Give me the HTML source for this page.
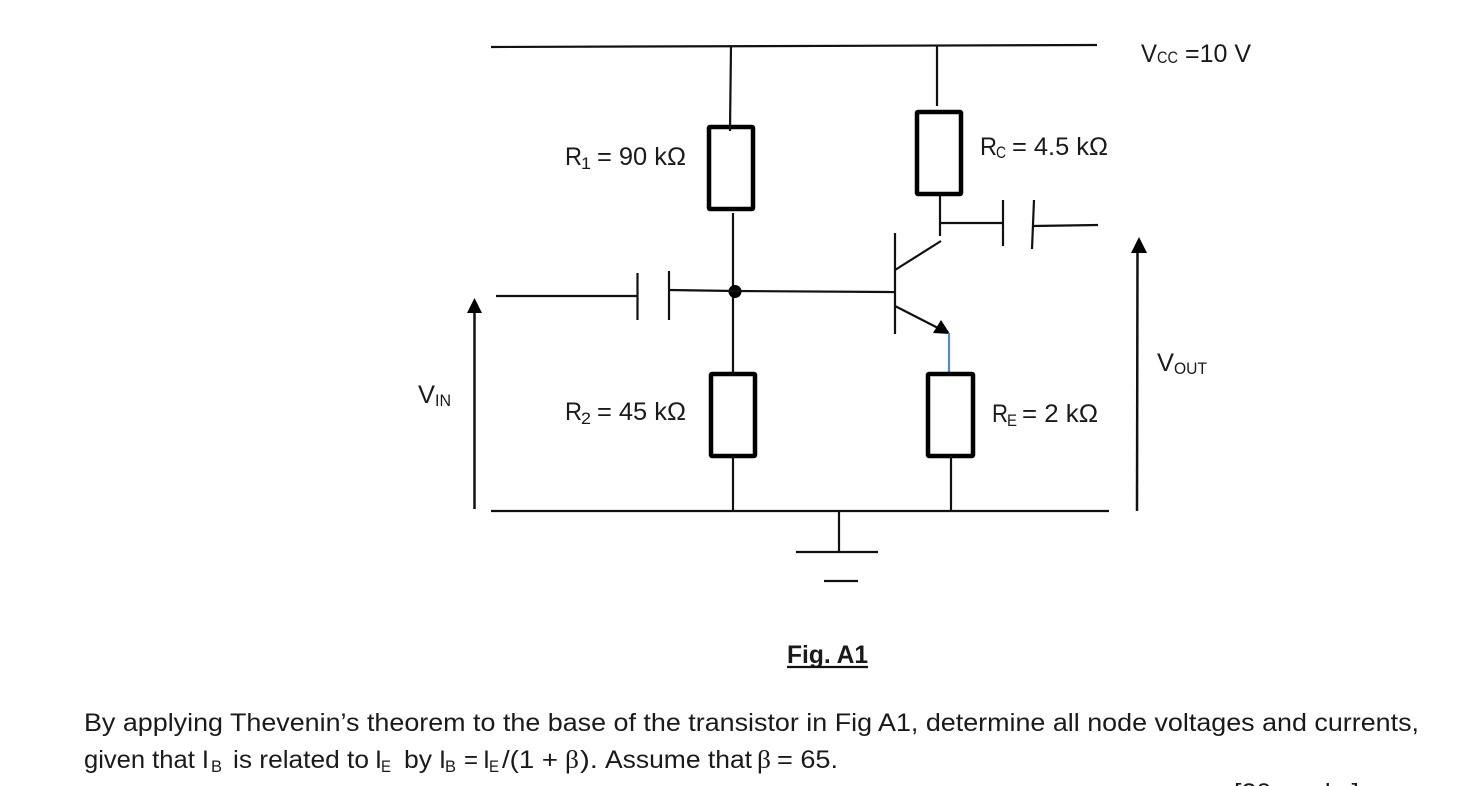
<!DOCTYPE html>
<html><head><meta charset="utf-8"><style>
html,body{margin:0;padding:0;background:#fff;width:1465px;height:786px;overflow:hidden}
svg{display:block}
text{font-family:"Liberation Sans",sans-serif;fill:#1a1a1a;font-size:25px}
.s{font-size:17px}
line,polyline{stroke:#111;stroke-width:2.2;fill:none}
rect{stroke:#000;stroke-width:4.5;fill:#fff}
</style></head><body>
<svg width="1465" height="786" viewBox="0 0 1465 786" xmlns="http://www.w3.org/2000/svg">
<!-- rails -->
<line x1="491" y1="47" x2="1097" y2="45"/>
<line x1="491" y1="511" x2="1109" y2="511"/>
<!-- left branch -->
<rect x="709" y="127" width="44" height="82" rx="1"/>
<line x1="731" y1="46" x2="730" y2="131"/>
<line x1="733" y1="213" x2="733" y2="374"/>
<rect x="711" y="374" width="44" height="82" rx="1"/>
<line x1="733" y1="456" x2="733" y2="511"/>
<circle cx="735" cy="291.500" r="6.5" fill="#000"/>
<!-- input cap -->
<line x1="496" y1="296" x2="637" y2="296"/>
<line x1="637.500" y1="273" x2="637.500" y2="320"/>
<line x1="669" y1="271" x2="669" y2="320"/>
<line x1="669" y1="290" x2="735" y2="291"/>
<line x1="735" y1="291" x2="895" y2="292"/>
<!-- right branch -->
<line x1="937" y1="46" x2="937" y2="106"/>
<rect x="917" y="112" width="44" height="82" rx="1"/>
<line x1="940" y1="196" x2="940" y2="236"/>
<line x1="941" y1="223" x2="1002" y2="223"/>
<line x1="1003" y1="200" x2="1003" y2="246"/>
<line x1="1034" y1="200" x2="1032" y2="249"/>
<line x1="1033" y1="226" x2="1098" y2="225"/>
<!-- transistor -->
<line x1="895" y1="233" x2="895" y2="334"/>
<line x1="895" y1="270" x2="941" y2="241"/>
<line x1="895" y1="306" x2="938" y2="328"/>
<polygon points="950,334 933,333 941,320" fill="#000"/>
<line x1="949" y1="333" x2="949" y2="374" style="stroke:#5b87c5"/>
<rect x="928" y="374" width="45" height="82" rx="1"/>
<line x1="951" y1="456" x2="951" y2="511"/>
<!-- ground -->
<line x1="839" y1="511" x2="839" y2="551"/>
<line x1="796" y1="552" x2="878" y2="552"/>
<line x1="824" y1="581" x2="858" y2="581"/>
<!-- arrows -->
<line x1="474.500" y1="310" x2="474.500" y2="509" style="stroke-width:2.500"/>
<polygon points="474.500,298 467,313 482,313" fill="#000"/>
<line x1="1137.500" y1="250" x2="1137" y2="511" style="stroke-width:2.500"/>
<polygon points="1139,237 1131,253 1147,253" fill="#000"/>
<!-- labels -->
<text x="1141" y="62" textLength="16" lengthAdjust="spacingAndGlyphs">V</text>
<text x="1157" y="63" class="s" textLength="21" lengthAdjust="spacingAndGlyphs">CC</text>
<text x="1185" y="62" textLength="66" lengthAdjust="spacingAndGlyphs">=10 V</text>
<text x="565" y="165" textLength="17" lengthAdjust="spacingAndGlyphs">R</text>
<text x="581" y="169" class="s" textLength="10" lengthAdjust="spacingAndGlyphs">1</text>
<text x="597" y="165" textLength="89" lengthAdjust="spacingAndGlyphs">= 90 kΩ</text>
<text x="980" y="155" textLength="17" lengthAdjust="spacingAndGlyphs">R</text>
<text x="996" y="158" class="s" textLength="10" lengthAdjust="spacingAndGlyphs">C</text>
<text x="1012" y="155" textLength="96" lengthAdjust="spacingAndGlyphs">= 4.5 kΩ</text>
<text x="565" y="420" textLength="17" lengthAdjust="spacingAndGlyphs">R</text>
<text x="581" y="424" class="s" textLength="10" lengthAdjust="spacingAndGlyphs">2</text>
<text x="597" y="420" textLength="89" lengthAdjust="spacingAndGlyphs">= 45 kΩ</text>
<text x="992" y="422" textLength="16" lengthAdjust="spacingAndGlyphs">R</text>
<text x="1007" y="426" class="s" textLength="10" lengthAdjust="spacingAndGlyphs">E</text>
<text x="1022" y="422" textLength="76" lengthAdjust="spacingAndGlyphs">= 2 kΩ</text>
<text x="418" y="403" textLength="17" lengthAdjust="spacingAndGlyphs">V</text>
<text x="435" y="406" class="s" textLength="16" lengthAdjust="spacingAndGlyphs">IN</text>
<text x="1157" y="371" textLength="17" lengthAdjust="spacingAndGlyphs">V</text>
<text x="1174" y="374" class="s" textLength="33" lengthAdjust="spacingAndGlyphs">OUT</text>
<text x="787" y="663" font-weight="bold" textLength="81" lengthAdjust="spacingAndGlyphs">Fig. A1</text>
<line x1="787" y1="667" x2="868" y2="667"/>
<!-- body -->
<text x="84" y="731" textLength="1335" lengthAdjust="spacingAndGlyphs">By applying Thevenin’s theorem to the base of the transistor in Fig A1, determine all node voltages and currents,</text>
<text x="84" y="768" textLength="125" lengthAdjust="spacingAndGlyphs">given that I</text>
<text x="211" y="772" class="s" textLength="11" lengthAdjust="spacingAndGlyphs">B</text>
<text x="233" y="768" textLength="136" lengthAdjust="spacingAndGlyphs">is related to</text>
<text x="375" y="768">I</text>
<text x="381" y="772" class="s" textLength="10" lengthAdjust="spacingAndGlyphs">E</text>
<text x="404" y="768" textLength="28" lengthAdjust="spacingAndGlyphs">by</text>
<text x="439" y="768">I</text>
<text x="445" y="772" class="s" textLength="11" lengthAdjust="spacingAndGlyphs">B</text>
<text x="464" y="768" textLength="14" lengthAdjust="spacingAndGlyphs">=</text>
<text x="483" y="768">I</text>
<text x="489" y="772" class="s" textLength="10" lengthAdjust="spacingAndGlyphs">E</text>
<text x="502" y="768" textLength="56" lengthAdjust="spacingAndGlyphs">/(1 +</text>
<text x="565" y="768" style="font-family:'Liberation Serif',serif" textLength="14" lengthAdjust="spacingAndGlyphs">β</text>
<text x="580" y="768" textLength="18" lengthAdjust="spacingAndGlyphs">).</text>
<text x="605" y="768" textLength="147" lengthAdjust="spacingAndGlyphs">Assume that</text>
<text x="757" y="768" style="font-family:'Liberation Serif',serif" textLength="14" lengthAdjust="spacingAndGlyphs">β</text>
<text x="777" y="768" textLength="61" lengthAdjust="spacingAndGlyphs">= 65.</text>
<text x="1234" y="801" textLength="125" lengthAdjust="spacingAndGlyphs">[20 marks]</text>
</svg>
</body></html>
